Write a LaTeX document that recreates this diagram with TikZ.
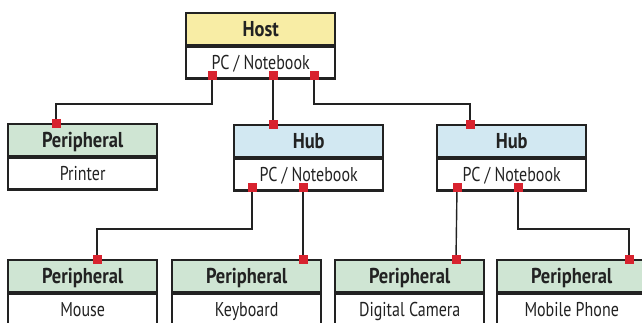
\documentclass[tikz,border=0pt]{standalone}
\usepackage{fontspec}
\setmainfont{PT Sans}[FakeStretch=0.8, BoldFeatures={FakeStretch=0.86}]
\usetikzlibrary{calc,backgrounds}
\definecolor{hostc}{HTML}{F8EDA5}
\definecolor{hubc}{HTML}{D2E8F2}
\definecolor{perc}{HTML}{CFE5D3}
\definecolor{redc}{HTML}{D8232F}
\definecolor{ink}{HTML}{222222}
\tikzset{
  hdr/.style={draw=ink, line width=2.4pt, minimum width=149pt, minimum height=31.5pt, inner sep=0pt, text height=14.5pt, text depth=0pt, anchor=north west, font=\fontsize{21.5}{24}\selectfont\bfseries, text=ink},
  bdy/.style={draw=ink, line width=2.4pt, fill=white, minimum width=149pt, minimum height=31.5pt, inner sep=0pt, text height=14pt, text depth=0pt, anchor=north, font=\fontsize{20}{24}\selectfont, text=ink},
  port/.style={fill=redc, minimum size=9pt, inner sep=0pt, draw=none},
  wire/.style={draw=ink, line width=1.4pt}
}
\begin{document}
\begin{tikzpicture}[x=1pt,y=-1pt]
\useasboundingbox (0,0) rectangle (642,322);
\clip (0,0) rectangle (642,322);
% boxes
\node[hdr, fill=hostc] (host) at (185,12) {Host};
\node[bdy] (hostb) at (host.south) {PC / Notebook};
\node[hdr, fill=perc] (prn) at (7,123) {Peripheral};
\node[bdy] (prnb) at (prn.south) {Printer};
\node[hdr, fill=hubc] (hub1) at (233,124) {Hub};
\node[bdy] (hub1b) at (hub1.south) {PC / Notebook};
\node[hdr, fill=hubc] (hub2) at (436,124) {Hub};
\node[bdy] (hub2b) at (hub2.south) {PC / Notebook};
\node[hdr, fill=perc] (mou) at (7,259) {Peripheral};
\node[bdy] (moub) at (mou.south) {Mouse};
\node[hdr, fill=perc] (key) at (171,259) {Peripheral};
\node[bdy] (keyb) at (key.south) {Keyboard};
\node[hdr, fill=perc] (cam) at (334,259) {Peripheral};
\node[bdy] (camb) at (cam.south) {Digital Camera};
\node[hdr, fill=perc] (mob) at (496,259) {Peripheral};
\node[bdy] (mobb) at (mob.south) {Mobile Phone};
% ports
\node[port] (h1) at (212,75.5) {};
\node[port] (h2) at (273,75.5) {};
\node[port] (h3) at (314,75.5) {};
\node[port] (pp) at (56,123) {};
\node[port] (u1t) at (273,124) {};
\node[port] (u2t) at (470,124) {};
\node[port] (u1a) at (252,187.5) {};
\node[port] (u1b) at (303,187.5) {};
\node[port] (u2a) at (457,187.5) {};
\node[port] (u2b) at (518,187.5) {};
\node[port] (pm) at (97,259) {};
\node[port] (pk) at (303,259) {};
\node[port] (pc) at (456,259) {};
\node[port] (pf) at (629,259) {};
\coordinate (bendA) at (0,104);
\coordinate (bendB) at (0,229);
% wires
\begin{scope}[on background layer]
\draw[wire] (h1.center) |- (bendA -| pp) -- (pp.center);
\draw[wire] (h2.center) -- (u1t.center);
\draw[wire] (h3.center) |- (bendA -| u2t) -- (u2t.center);
\draw[wire] (u1a.center) |- (bendB -| pm) -- (pm.center);
\draw[wire] (u1b.center) -- (pk.center);
\draw[wire] (u2a.center) -- (pc.center);
\draw[wire] (u2b.center) |- (bendB -| pf) -- (pf.center);
\end{scope}
\end{tikzpicture}
\end{document}
